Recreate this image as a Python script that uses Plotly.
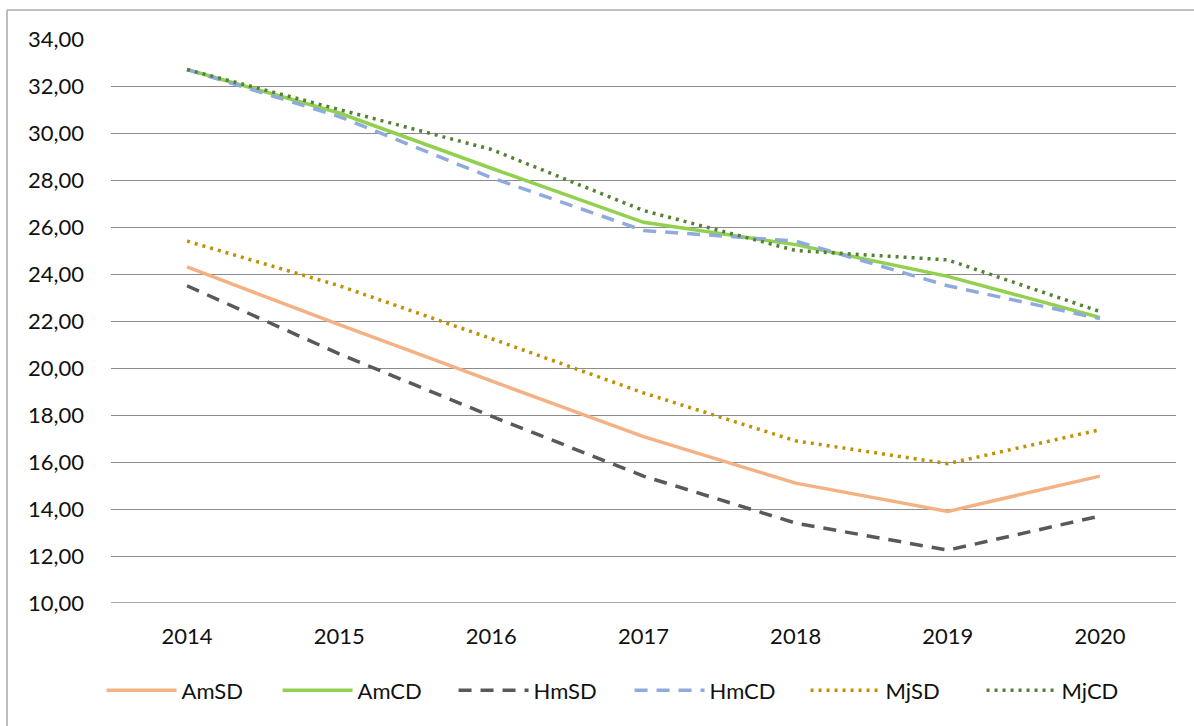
import plotly.graph_objects as go

years = ["2014", "2015", "2016", "2017", "2018", "2019", "2020"]
AmSD = [24.30, 21.85, 19.45, 17.08, 15.10, 13.90, 15.40]
AmCD = [32.70, 30.85, 28.50, 26.20, 25.25, 23.90, 22.15]
HmSD = [23.50, 20.60, 17.95, 15.40, 13.40, 12.25, 13.70]
HmCD = [32.70, 30.70, 28.10, 25.85, 25.40, 23.50, 22.10]
MjSD = [25.40, 23.50, 21.25, 18.94, 16.90, 15.93, 17.37]
MjCD = [32.70, 31.00, 29.30, 26.70, 25.00, 24.60, 22.40]

series = [
    ("AmSD", AmSD, "#F4B183", "solid"),
    ("AmCD", AmCD, "#92D050", "solid"),
    ("HmSD", HmSD, "#595959", "13px,9px"),
    ("HmCD", HmCD, "#8FAADC", "13px,9px"),
    ("MjSD", MjSD, "#BF9000", "3px,5px"),
    ("MjCD", MjCD, "#548235", "3px,5px"),
]

fig = go.Figure()
for name, vals, color, dash in series:
    fig.add_trace(go.Scatter(
        x=years, y=vals, name=name, mode="lines",
        line=dict(color=color, width=3.5, dash=dash),
    ))

font_family = "Lato, 'Open Sans', sans-serif"
border = dict(color="#ADADAD", width=1.6)
fig.update_layout(
    width=1194, height=726,
    paper_bgcolor="white", plot_bgcolor="white",
    margin=dict(l=111, r=18, t=39, b=123, autoexpand=False),
    separators=",.",
    font=dict(family=font_family, size=22, color="#111111"),
    showlegend=True,
    legend=dict(
        orientation="h", x=0.4869, xanchor="center", y=-0.118, yanchor="top",
        font=dict(size=22, color="#111111"),
        itemwidth=70,
        entrywidth=91, entrywidthmode="pixels",
        bgcolor="rgba(0,0,0,0)",
    ),
    xaxis=dict(
        type="category", range=[-0.5, 6.5],
        showgrid=False, showline=False, zeroline=False,
        ticks="", ticklabelstandoff=18,
        tickfont=dict(size=22, color="#111111"),
    ),
    yaxis=dict(
        range=[10, 34], dtick=2, tick0=10, tickformat=".2f",
        showgrid=True, gridcolor="#8C8C8C", gridwidth=1.3,
        zeroline=False, showline=False, ticks="",
        ticklabelstandoff=26,
        tickfont=dict(size=22, color="#111111"),
    ),
    shapes=[
        dict(type="line", xref="paper", yref="paper",
             x0=-0.09765, x1=1.0169, y0=1.0514, y1=1.0514, line=border),
        dict(type="line", xref="paper", yref="paper",
             x0=-0.09765, x1=-0.09765, y0=1.0514, y1=-0.2181, line=border),
        dict(type="line", xref="paper", yref="y",
             x0=0, x1=1, y0=10, y1=10,
             line=dict(color="#8C8C8C", width=1.5)),
    ],
)

fig.write_html("out.html", config={"displayModeBar": False},
               post_script="document.body.style.margin='0';")
